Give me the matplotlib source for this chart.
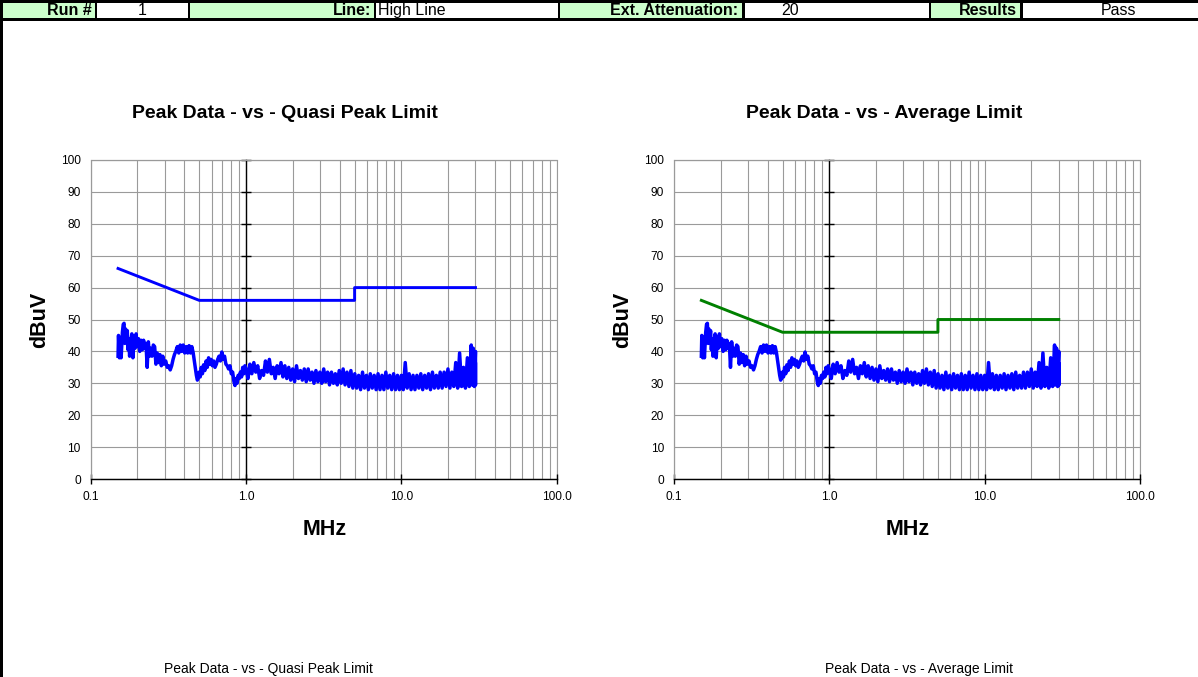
import matplotlib
matplotlib.use('Agg')
import matplotlib.pyplot as plt
from matplotlib.patches import Rectangle
from matplotlib.ticker import FixedLocator, NullFormatter, LogLocator

plt.rcParams['font.family'] = ['Liberation Sans', 'DejaVu Sans']

W, H = 1198, 677

# ---------------- data ----------------
header_labels = ["Run #", "Line:", "Ext. Attenuation:", "Results"]
header_values = ["1", "High Line", "20", "Pass"]

chart_titles = ["Peak Data - vs - Quasi Peak Limit", "Peak Data - vs - Average Limit"]
footer_titles = ["Peak Data - vs - Quasi Peak Limit", "Peak Data - vs - Average Limit"]
x_label = "MHz"
y_label = "dBuV"

x_ticks = [0.1, 1.0, 10.0, 100.0]
x_tick_labels = ["0.1", "1.0", "10.0", "100.0"]
y_ticks = [0, 10, 20, 30, 40, 50, 60, 70, 80, 90, 100]

qp_limit_freq = [0.15, 0.5, 5.0, 5.0, 30.0]
qp_limit_dbuv = [66, 56, 56, 60, 60]
avg_limit_freq = [0.15, 0.5, 5.0, 5.0, 30.0]
avg_limit_dbuv = [56, 46, 46, 50, 50]

freq_mhz = [
    0.150, 0.151, 0.153, 0.155, 0.157, 0.160, 0.162, 0.164, 0.166, 0.168,
    0.170, 0.172, 0.174, 0.176, 0.178, 0.181, 0.184, 0.187, 0.190, 0.193,
    0.196, 0.199, 0.203, 0.207, 0.211, 0.215, 0.219, 0.223, 0.227, 0.231,
    0.235, 0.239, 0.243, 0.248, 0.253, 0.258, 0.263, 0.268, 0.273, 0.279,
    0.285, 0.291, 0.297, 0.304, 0.311, 0.318, 0.325, 0.332, 0.339, 0.346,
    0.353, 0.361, 0.369, 0.377, 0.385, 0.394, 0.403, 0.412, 0.421, 0.430,
    0.439, 0.448, 0.457, 0.465, 0.472, 0.479, 0.486, 0.492, 0.499, 0.507,
    0.515, 0.524, 0.533, 0.543, 0.553, 0.563, 0.574, 0.585, 0.596, 0.607,
    0.619, 0.631, 0.644, 0.657, 0.670, 0.684, 0.698, 0.712, 0.727, 0.742,
    0.757, 0.772, 0.788, 0.804, 0.820, 0.836, 0.849, 0.862, 0.876, 0.890,
    0.905, 0.920, 0.936, 0.952, 0.968, 0.984,
    1.000, 1.029, 1.059, 1.090, 1.122, 1.155, 1.189, 1.223, 1.259, 1.296,
    1.334, 1.372, 1.413, 1.454, 1.496, 1.540, 1.585, 1.631, 1.679, 1.728,
    1.778, 1.830, 1.884, 1.939, 1.995, 2.054, 2.113, 2.175, 2.239, 2.304,
    2.371, 2.441, 2.512, 2.585, 2.661, 2.738, 2.818, 2.901, 2.985, 3.073,
    3.162, 3.255, 3.350, 3.447, 3.548, 3.652, 3.758, 3.868, 3.981, 4.097,
    4.217, 4.340, 4.467, 4.597, 4.732, 4.870, 5.012, 5.158, 5.309, 5.464,
    5.623, 5.788, 5.957, 6.131, 6.310, 6.494, 6.683, 6.879, 7.079, 7.286,
    7.499, 7.718, 7.943, 8.175, 8.414, 8.660, 8.913, 9.173, 9.441, 9.716,
    10.00, 10.29, 10.59, 10.90, 11.22, 11.55, 11.89, 12.23, 12.59, 12.96,
    13.34, 13.72, 14.13, 14.54, 14.96, 15.40, 15.85, 16.31, 16.79, 17.28,
    17.78, 18.30, 18.84, 19.39, 19.95, 20.54, 21.13, 21.75, 22.39, 23.04,
    23.71, 24.41, 25.12, 25.85, 26.61, 27.38, 28.18, 28.50, 29.01, 29.50,
    30.00, 30.00, 30.00,
]
peak_dbuv = [
    38.5, 45.0, 38.0, 43.5, 38.0, 46.0, 48.5, 48.8, 42.5, 47.0,
    44.0, 46.5, 40.5, 44.0, 38.5, 42.5, 45.5, 38.0, 44.5, 41.0,
    45.5, 41.5, 44.0, 40.0, 43.5, 40.5, 43.5, 41.0, 42.5, 35.0,
    43.0, 38.5, 41.0, 38.5, 42.0, 41.5, 36.0, 39.5, 36.5, 39.0,
    35.5, 38.5, 36.0, 37.0, 35.0, 35.5, 34.2, 35.5, 37.5, 39.0,
    40.0, 41.5, 39.5, 42.0, 40.0, 42.0, 39.5, 41.5, 39.5, 41.8,
    39.5, 41.5, 39.5, 37.0, 35.0, 32.5, 31.0, 31.5, 33.5, 32.0,
    35.0, 33.0, 35.8, 34.0, 37.0, 35.0, 38.0, 36.0, 37.5, 35.5,
    37.0, 35.0, 36.0, 37.5, 38.5, 37.0, 39.8, 37.5, 38.5, 36.0,
    35.5, 34.5, 35.5, 33.0, 33.5, 30.5, 29.3, 31.5, 30.0, 32.5,
    31.5, 33.5, 32.0, 35.0, 33.0, 35.5,
    34.5, 31.5, 36.0, 33.0, 36.5, 33.5, 35.5, 31.5, 34.0, 32.5,
    37.0, 33.5, 37.5, 33.0, 35.0, 31.5, 35.5, 33.0, 36.5, 32.0,
    35.5, 31.5, 35.0, 31.0, 34.5, 30.5, 35.5, 31.5, 34.0, 31.0,
    34.5, 30.5, 34.5, 31.0, 33.5, 30.0, 34.0, 30.5, 33.5, 30.0,
    34.5, 30.5, 33.5, 29.5, 33.5, 30.0, 33.0, 29.5, 34.0, 30.0,
    34.5, 29.5, 33.5, 29.0, 34.0, 28.5, 33.0, 28.5, 32.5, 28.0,
    33.5, 28.5, 32.5, 28.0, 33.0, 28.5, 32.5, 28.0, 33.0, 28.0,
    32.5, 28.0, 33.5, 28.5, 32.5, 28.0, 33.0, 28.0, 32.5, 28.0,
    32.5, 28.0, 36.5, 28.5, 33.0, 28.0, 32.5, 28.0, 32.5, 28.5,
    33.0, 28.0, 32.5, 28.5, 33.0, 28.0, 33.5, 28.5, 32.5, 28.5,
    33.5, 28.5, 33.5, 29.0, 34.5, 28.5, 33.5, 29.0, 36.5, 28.5,
    39.5, 29.0, 35.0, 28.5, 38.0, 29.0, 42.0, 29.5, 41.0, 29.0,
    40.0, 29.5, 36.0,
]

# ---------------- figure ----------------
fig = plt.figure(figsize=(W / 100, H / 100), dpi=100)

# pixel-coordinate overlay for the sheet header
axh = fig.add_axes([0, 0, 1, 1], zorder=0)
axh.set_xlim(0, W)
axh.set_ylim(H, 0)
axh.axis('off')

green = '#CCFFCC'
axh.add_patch(Rectangle((0, 0), W, 21, color='black', lw=0))
axh.add_patch(Rectangle((0, 0), 3, H, color='black', lw=0))
cells = [(3, 95, green), (97, 188, 'white'), (190, 374, green), (376, 558, 'white'),
         (560, 742, green), (745, 929, 'white'), (931, 1020, green), (1023, W, 'white')]
for x0, x1, c in cells:
    axh.add_patch(Rectangle((x0, 3), x1 - x0, 15, color=c, lw=0))

ty = 10.5
hdr_fs = 11.5
axh.text(92, ty, header_labels[0], ha='right', va='center', fontsize=hdr_fs, fontweight='bold')
axh.text(142.5, ty, header_values[0], ha='center', va='center', fontsize=hdr_fs)
axh.text(371, ty, header_labels[1], ha='right', va='center', fontsize=hdr_fs, fontweight='bold')
axh.text(378, ty, header_values[1], ha='left', va='center', fontsize=hdr_fs)
axh.text(738, ty, header_labels[2], ha='right', va='center', fontsize=hdr_fs, fontweight='bold')
axh.text(781, ty, header_values[2], ha='left', va='center', fontsize=hdr_fs)
axh.text(1017, ty, header_labels[3], ha='right', va='center', fontsize=hdr_fs, fontweight='bold')
axh.text(1118, ty, header_values[3], ha='center', va='center', fontsize=hdr_fs)

gridc = '#9a9a9a'


def make_chart(left_px, limit_f, limit_db, limit_color, title, title_cx, label_cx, ylab_cx, footer, footer_cx):
    ax = fig.add_axes([left_px / W, 1 - 479 / H, 466 / W, 319 / H], zorder=1)
    ax.set_xscale('log')
    ax.set_xlim(0.1, 100)
    ax.set_ylim(0, 100)
    ax.xaxis.set_major_locator(FixedLocator(x_ticks))
    ax.set_xticklabels(x_tick_labels)
    ax.xaxis.set_minor_locator(LogLocator(base=10, subs=[2, 3, 4, 5, 6, 7, 8, 9]))
    ax.xaxis.set_minor_formatter(NullFormatter())
    ax.set_yticks(y_ticks)
    ax.grid(which='major', axis='both', color=gridc, lw=0.8)
    ax.grid(which='minor', axis='x', color=gridc, lw=0.8)
    ax.set_axisbelow(True)

    for s in ['left', 'top']:
        ax.spines[s].set_color(gridc)
        ax.spines[s].set_linewidth(0.8)
    ax.spines['bottom'].set_color('black')
    ax.spines['bottom'].set_linewidth(1.0)
    ax.spines['right'].set_position(('data', 1.0))
    ax.spines['right'].set_color('black')
    ax.spines['right'].set_linewidth(1.0)
    ax.add_patch(Rectangle((0, 0), 1, 1, transform=ax.transAxes, fill=False,
                           ec=gridc, lw=0.8, clip_on=False, zorder=0.5))

    ax.tick_params(axis='x', which='minor', length=0)
    ax.tick_params(axis='x', which='major', direction='inout', length=7, width=1,
                   color='black', labelsize=8.6, pad=5)
    ax.tick_params(axis='y', which='major', left=False, right=True, labelleft=True,
                   labelright=False, direction='inout', length=7, width=1,
                   color='black', labelsize=8.6, pad=3.7)

    ax.plot(freq_mhz, peak_dbuv, color='#0000FF', lw=2.5, zorder=3)
    ax.plot(limit_f, limit_db, color=limit_color, lw=2.1, zorder=3)

    fig.text(title_cx / W, 1 - 118 / H, title, ha='center', va='baseline',
             fontsize=14, fontweight='bold')
    fig.text(label_cx / W, 1 - 535 / H, x_label, ha='center', va='baseline',
             fontsize=15.5, fontweight='bold')
    fig.text(ylab_cx / W, 1 - 320 / H, y_label, ha='center', va='center', rotation=90,
             fontsize=15.5, fontweight='bold')
    fig.text(footer_cx / W, 1 - 673 / H, footer, ha='center', va='baseline', fontsize=10)
    return ax


make_chart(90.7, qp_limit_freq, qp_limit_dbuv, '#0000FF', chart_titles[0], 284.5, 324.5, 40,
           footer_titles[0], 268)
make_chart(674, avg_limit_freq, avg_limit_dbuv, '#008000', chart_titles[1], 884, 907.5, 623,
           footer_titles[1], 919)

fig.savefig('out.png', dpi=100)
